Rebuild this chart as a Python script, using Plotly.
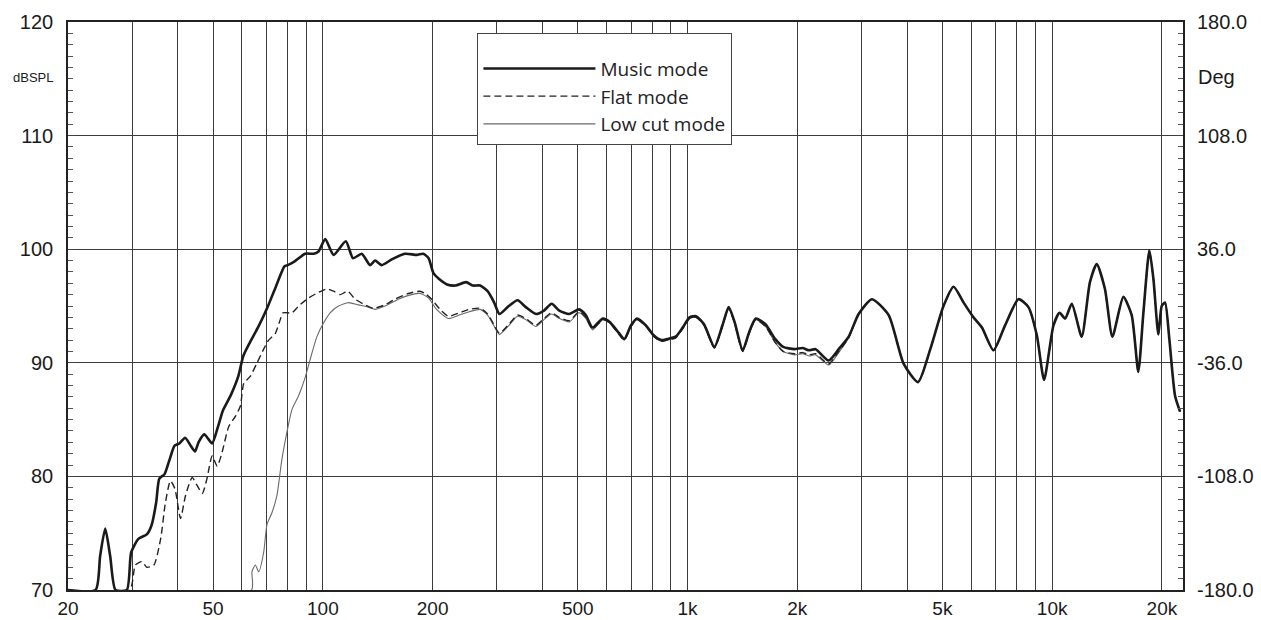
import plotly.graph_objects as go

# ---------------- data ----------------
music_f = [20, 23.8, 24.5, 25.3, 26.1, 27.0, 29.0, 29.8, 31.2, 32.9, 33.9, 34.9, 35.6, 36.8,
           38.0, 39.2, 40.4, 41.9, 43.4, 44.6, 45.6, 47.3, 48.5, 49.7, 51.6, 53.2, 56.0,
           58.6, 60.5, 63.1, 66.6, 70.3, 74.3, 78.5, 80.1, 83.5, 89.4, 94.4, 97.3,
           101.5, 107, 115.6, 121, 127.8, 134.7, 139, 145, 154.5, 168, 181, 188.6, 195,
           201, 208, 219, 231, 247, 258, 270, 283, 295, 305, 321, 342, 360, 384, 404,
           424, 445, 474, 504, 526, 549, 586, 612, 642, 671, 700, 727, 769, 809, 847,
           881, 928, 970, 1013, 1056, 1110, 1185, 1247, 1297, 1346, 1417, 1476, 1539,
           1636, 1739, 1830, 1964, 2068, 2155, 2245, 2437, 2598, 2767, 2947, 3205, 3562,
           3917, 4289, 4633, 5036, 5367, 5718, 6087, 6420, 6905, 7430, 8086, 8610, 9081,
           9504, 10085, 10478, 10855, 11323, 12052, 12697, 13254, 13958, 14630, 15677,
           16527, 17231, 17793, 18480, 18955, 19557, 19977, 20400, 20960, 21730, 22430]
music_db = [70, 70, 73.0, 75.4, 73.0, 70, 70, 73.3, 74.5, 74.9, 75.7, 77.7, 79.8, 80.2,
            81.5, 82.7, 82.9, 83.4, 82.7, 82.2, 83.0, 83.7, 83.3, 82.9, 84.4, 85.8, 87.2,
            88.8, 90.6, 91.8, 93.2, 94.8, 96.7, 98.5, 98.6, 98.9, 99.6, 99.6, 99.8,
            100.9, 99.5, 100.7, 99.2, 99.6, 98.6, 99.0, 98.6, 99.1, 99.6, 99.5, 99.6, 99.2,
            97.9, 97.4, 96.9, 96.8, 97.1, 96.8, 96.8, 96.3, 95.3, 94.3, 94.9, 95.5, 94.9,
            94.3, 94.6, 95.2, 94.6, 94.3, 94.7, 94.2, 93.1, 93.9, 93.6, 92.8, 92.1, 93.3,
            93.9, 93.3, 92.4, 92.0, 92.1, 92.3, 93.1, 94.0, 94.1, 93.4, 91.4, 93.3, 94.9,
            93.6, 91.1, 92.7, 93.9, 93.4, 92.1, 91.4, 91.2, 91.3, 91.1, 91.2, 90.2, 91.2,
            92.3, 94.3, 95.6, 94.2, 89.9, 88.3, 91.2, 95.0, 96.7, 95.3, 94.0, 93.1, 91.1,
            93.3, 95.6, 94.9, 92.4, 88.5, 93.3, 94.4, 93.9, 95.2, 92.3, 97.1, 98.7, 96.5,
            92.3, 95.8, 94.2, 89.2, 94.4, 99.9, 97.4, 92.5, 95.0, 95.3, 92.1, 87.1, 85.7]

flat_f = [20, 29.5, 30.6, 31.9, 32.9, 34.4, 35.9, 37.0, 38.2, 39.3, 40.7, 42.0, 43.8, 45.2,
          46.7, 48.1, 49.7, 51.3, 52.9, 55.2, 57.6, 59.4, 60.7, 63.2, 66.0, 68.8, 71.0,
          74.1, 76.4, 77.7, 82.3, 85.8, 91.3, 97.3, 102.5, 107, 111.5, 117, 122.6, 130.5,
          137.6, 148, 157.7, 171.6, 184.6, 190.6, 198.7, 209.6, 221, 237, 252, 270, 283,
          294, 305, 324, 342, 360, 384, 404, 424, 445, 474, 504, 526, 549, 586, 612, 642,
          671, 700, 727, 769, 809, 847, 881, 928, 970, 1013, 1056, 1110, 1185, 1247, 1297,
          1346, 1417, 1476, 1539, 1636, 1739, 1830, 1964, 2068, 2155, 2245, 2437, 2598,
          2767, 2947, 3205, 3562, 3917, 4289, 4633, 5036, 5367, 5718, 6087, 6420, 6905,
          7430, 8086, 8610, 9081, 9504, 10085, 10478, 10855, 11323, 12052, 12697, 13254,
          13958, 14630, 15677, 16527, 17231, 17793, 18480, 18955, 19557, 19977, 20400,
          20960, 21730, 22430]
flat_db = [70, 70, 72.2, 72.5, 72.0, 72.2, 74.5, 77.7, 79.6, 78.9, 76.3, 78.3, 79.9, 79.2,
           78.5, 79.8, 81.8, 80.9, 82.1, 84.4, 85.3, 86.2, 88.2, 88.8, 90.0, 91.2, 92.0,
           92.6, 93.8, 94.4, 94.4, 95.0, 95.7, 96.2, 96.5, 96.3, 96.0, 96.3, 95.6, 95.1,
           94.8, 95.1, 95.6, 96.1, 96.3, 96.1, 95.6, 94.7, 94.1, 94.4, 94.7, 94.8, 94.3,
           93.4, 92.6, 93.4, 94.2, 93.9, 93.3, 93.9, 94.4, 94.0, 93.7, 94.5, 94.0, 93.0,
           93.8, 93.5, 92.7, 92.0, 93.2, 93.8, 93.2, 92.3, 91.9, 92.0, 92.2, 93.0, 93.9,
           94.0, 93.3, 91.3, 93.2, 94.8, 93.5, 91.0, 92.6, 93.8, 93.2, 91.8, 91.0, 90.8,
           90.9, 90.7, 90.8, 89.9, 91.0, 92.2, 94.3, 95.6, 94.2, 89.9, 88.3, 91.2, 95.0,
           96.7, 95.3, 94.0, 93.1, 91.1, 93.3, 95.6, 94.9, 92.4, 88.5, 93.3, 94.4, 93.9,
           95.2, 92.3, 97.1, 98.7, 96.5, 92.3, 95.8, 94.2, 89.2, 94.4, 99.9, 97.4, 92.5,
           95.0, 95.3, 92.1, 87.1, 85.7]

lowcut_f = [20, 63.7, 63.9, 65.3, 66.7, 68.8, 70.3, 72.5, 74.8, 77.2, 79.7, 82.3, 85.8,
            89.4, 92.3, 96.3, 100.4, 104.7, 110.4, 117.6, 125.2, 133.4, 139, 148, 161, 175,
            185, 195, 205, 221, 237, 252, 270, 283, 294, 305, 324, 342, 360, 384, 404, 424,
            445, 474, 504, 526, 549, 586, 612, 642, 671, 700, 727, 769, 809, 847, 881, 928,
            970, 1013, 1056, 1110, 1185, 1247, 1297, 1346, 1417, 1476, 1539, 1636, 1739,
            1830, 1964, 2068, 2155, 2245, 2437, 2598, 2767, 2947, 3205, 3562, 3917, 4289,
            4633, 5036, 5367, 5718, 6087, 6420, 6905, 7430, 8086, 8610, 9081, 9504, 10085,
            10478, 10855, 11323, 12052, 12697, 13254, 13958, 14630, 15677, 16527, 17231,
            17793, 18480, 18955, 19557, 19977, 20400, 20960, 21730, 22430]
lowcut_db = [70, 70, 71.6, 72.2, 71.6, 73.3, 75.8, 76.8, 78.3, 81.5, 83.9, 85.9, 87.1,
             88.7, 90.3, 92.3, 93.5, 94.4, 95.0, 95.3, 95.1, 94.9, 94.7, 95.0, 95.6, 96.0,
             96.1, 95.7, 94.7, 93.9, 94.2, 94.5, 94.7, 94.2, 93.3, 92.5, 93.3, 94.1, 93.8,
             93.2, 93.8, 94.3, 93.9, 93.6, 94.4, 93.9, 92.9, 93.8, 93.5, 92.7, 92.0, 93.2,
             93.8, 93.2, 92.3, 91.9, 92.0, 92.2, 93.0, 93.9, 94.0, 93.3, 91.3, 93.2, 94.8,
             93.5, 91.0, 92.6, 93.8, 93.2, 91.8, 91.0, 90.7, 90.8, 90.6, 90.7, 89.8, 90.9,
             92.2, 94.3, 95.6, 94.2, 89.9, 88.3, 91.2, 95.0, 96.7, 95.3, 94.0, 93.1, 91.1,
             93.3, 95.6, 94.9, 92.4, 88.5, 93.3, 94.4, 93.9, 95.2, 92.3, 97.1, 98.7, 96.5,
             92.3, 95.8, 94.2, 89.2, 94.4, 99.9, 97.4, 92.5, 95.0, 95.3, 92.1, 87.1, 85.7]

x_tick_vals = [20, 50, 100, 200, 500, 1000, 2000, 5000, 10000, 20000]
x_tick_text = ["20", "50", "100", "200", "500", "1k", "2k", "5k", "10k", "20k"]
x_grid_minor = [30, 40, 60, 70, 80, 90, 300, 400, 600, 700, 800, 900,
                3000, 4000, 6000, 7000, 8000, 9000]
y_ticks = [70, 80, 90, 100, 110, 120]
deg_ticks = [-180, -108, -36, 36, 108, 180]
deg_text = ["-180.0", "-108.0", "-36.0", "36.0", "108.0", "180.0"]

# ---------------- figure ----------------
TICKFONT = dict(family="Liberation Sans, Arial, sans-serif", size=20, color="#1a1a1a")
XTICKFONT = dict(family="Liberation Sans, Arial, sans-serif", size=19, color="#1a1a1a")
GRID = "#3c3c3c"

fig = go.Figure()
fig.add_trace(go.Scatter(x=lowcut_f, y=lowcut_db, name="Low cut mode", mode="lines",
                         line=dict(color="#6a6a6a", width=1.1, shape="spline", smoothing=0.6)))
fig.add_trace(go.Scatter(x=flat_f, y=flat_db, name="Flat mode", mode="lines",
                         line=dict(color="#222222", width=1.4, dash="7px,4px",
                                   shape="spline", smoothing=0.6)))
fig.add_trace(go.Scatter(x=music_f, y=music_db, name="Music mode", mode="lines",
                         line=dict(color="#1a1a1a", width=2.6, shape="spline", smoothing=0.6)))
# phase axis carrier (no visible data)
fig.add_trace(go.Scatter(x=[None], y=[None], yaxis="y2", showlegend=False,
                         hoverinfo="skip", mode="lines"))

fig.update_layout(
    width=1261, height=620, autosize=False,
    margin=dict(l=68, r=78, t=22, b=30, autoexpand=False),
    paper_bgcolor="white", plot_bgcolor="white",
    showlegend=True,
    legend=dict(x=0.367, y=0.981, xanchor="left", yanchor="top",
                bgcolor="white", bordercolor="#444444", borderwidth=1.2,
                font=dict(family="Open Sans, Noto Sans, sans-serif", size=19, color="#222222"),
                title=dict(text=" ", font=dict(size=12)),
                traceorder="reversed", itemwidth=112),
    xaxis=dict(type="log", range=[1.30103, 4.3589], automargin=False,
               tickmode="array", tickvals=x_tick_vals, ticktext=x_tick_text,
               tickfont=XTICKFONT, ticks="", showgrid=True, gridcolor=GRID, gridwidth=1.2,
               minor=dict(tickmode="array", tickvals=x_grid_minor, showgrid=True,
                          gridcolor=GRID, gridwidth=1.2, ticks=""),
               showline=True, linecolor="#222222", linewidth=1.6, mirror=True,
               zeroline=False, ticklabelstandoff=0),
    yaxis=dict(range=[70, 120], tickmode="array", tickvals=y_ticks, automargin=False,
               tickfont=TICKFONT, showgrid=True, gridcolor=GRID, gridwidth=1.2,
               ticks="inside", ticklen=6, tickcolor="#444444",
               minor=dict(dtick=1, ticks="inside", ticklen=5, tickcolor="#555555",
                          showgrid=False),
               showline=True, linecolor="#222222", linewidth=1.6, mirror=True,
               zeroline=False, ticklabelstandoff=9),
    yaxis2=dict(range=[-180, 180], overlaying="y", side="right", anchor="x",
                automargin=False,
                tickmode="array", tickvals=deg_ticks, ticktext=deg_text,
                tickfont=TICKFONT, showgrid=False, zeroline=False,
                ticks="inside", ticklen=6, tickcolor="#444444",
                minor=dict(dtick=7.2, tick0=-180, ticks="inside", ticklen=5,
                           tickcolor="#555555", showgrid=False),
                showline=False, ticklabelstandoff=13),
    annotations=[
        dict(text="dBSPL", xref="paper", yref="paper", x=-0.031, y=0.902,
             xanchor="center", yanchor="middle",
             showarrow=False, font=dict(family="Liberation Sans, Arial, sans-serif",
                                        size=13, color="#1a1a1a")),
        dict(text="Deg", xref="paper", yref="paper", x=1.0296, y=0.9035,
             xanchor="center", yanchor="middle",
             showarrow=False, font=dict(family="Liberation Sans, Arial, sans-serif",
                                        size=20, color="#1a1a1a")),
    ],
)

fig.write_html(
    "out.html",
    config={"displayModeBar": False},
    post_script="document.body.style.margin='0';document.body.style.overflow='hidden';",
)
